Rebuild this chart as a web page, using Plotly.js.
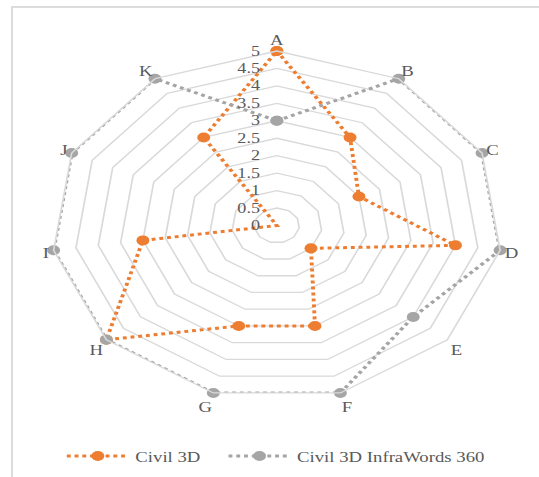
<!DOCTYPE html>
<html>
<head>
<meta charset="utf-8">
<script src="https://cdn.plot.ly/plotly-3.0.1.min.js"></script>
<style>
html, body { margin: 0; padding: 0; background: #ffffff; overflow: hidden; width: 539px; height: 477px; }
#frame { position: absolute; left: 11px; top: 6px; width: 540px; height: 480px; border-left: 2px solid #dcdcdc; border-top: 2px solid #dcdcdc; box-sizing: border-box; }
#chart { position: absolute; left: 0; top: 0; width: 417px; height: 477px; transform: scaleX(1.2926); transform-origin: 0 0; }
</style>
</head>
<body>
<div id="frame"></div>
<div id="chart"></div>
<script>
// ---- data ----
const categories = ['A', 'B', 'C', 'D', 'E', 'F', 'G', 'H', 'I', 'J', 'K'];
const civil3d = [5, 3, 2, 4, 1, 3, 3, 5, 3, 0, 3];
const infraworks = [3, 5, 5, 5, 4, 5, 5, 5, 5, 5, 5];
const seriesNames = ['Civil 3D', 'Civil 3D InfraWords 360'];
const radialTicks = [0, 0.5, 1, 1.5, 2, 2.5, 3, 3.5, 4, 4.5, 5];
const radialTickLabels = ['0', '0.5', '1', '1.5', '2', '2.5', '3', '3.5', '4', '4.5', '5'];

// ---- styles ----
const serif = 'Liberation Serif, Times New Roman, serif';
const textColor = '#595959';
const gridColor = '#d9d9d9';
const colors = ['#ED7D31', '#A5A5A5'];
const legendIds = ['legend', 'legend2'];
const labelPad = '\u00a0\u00a0\u00a0';

function closed(arr) { return arr.concat([arr[0]]); }

const traces = [civil3d, infraworks].map((vals, i) => ({
  type: 'scatterpolar',
  name: seriesNames[i],
  legend: legendIds[i],
  r: closed(vals),
  theta: closed(categories),
  mode: 'lines+markers',
  line: { color: colors[i], width: 3, dash: 'dot' },
  marker: { color: colors[i], size: 10 },
  cliponaxis: false
}));

function legendBox(x) {
  return {
    orientation: 'h',
    x: x, xanchor: 'left',
    y: 0.044, yanchor: 'middle',
    font: { family: serif, size: 14.5, color: textColor },
    itemwidth: 48,
    bgcolor: 'rgba(0,0,0,0)'
  };
}

const layout = {
  width: 417,
  height: 477,
  margin: { l: 0, r: 0, t: 0, b: 0 },
  paper_bgcolor: 'rgba(0,0,0,0)',
  plot_bgcolor: 'rgba(0,0,0,0)',
  showlegend: true,
  legend: legendBox(0.112),
  legend2: legendBox(0.412),
  polar: {
    domain: { x: [0.0952, 0.9321], y: [0.1614, 0.8931] },
    gridshape: 'linear',
    bgcolor: 'rgba(0,0,0,0)',
    radialaxis: {
      range: [0, 5],
      tickvals: radialTicks,
      ticktext: radialTickLabels.map(t => t + labelPad),
      angle: 90,
      tickangle: 90,
      side: 'counterclockwise',
      showline: false,
      ticks: '',
      gridcolor: gridColor,
      gridwidth: 1.3,
      tickfont: { family: serif, size: 14, color: textColor }
    },
    angularaxis: {
      type: 'category',
      categoryarray: categories,
      direction: 'clockwise',
      rotation: 90,
      showgrid: false,
      showline: true,
      linecolor: gridColor,
      linewidth: 1.3,
      ticks: '',
      tickfont: { family: serif, size: 14.5, color: textColor }
    }
  }
};

Plotly.newPlot('chart', traces, layout, { displayModeBar: false, staticPlot: true });
</script>
</body>
</html>
